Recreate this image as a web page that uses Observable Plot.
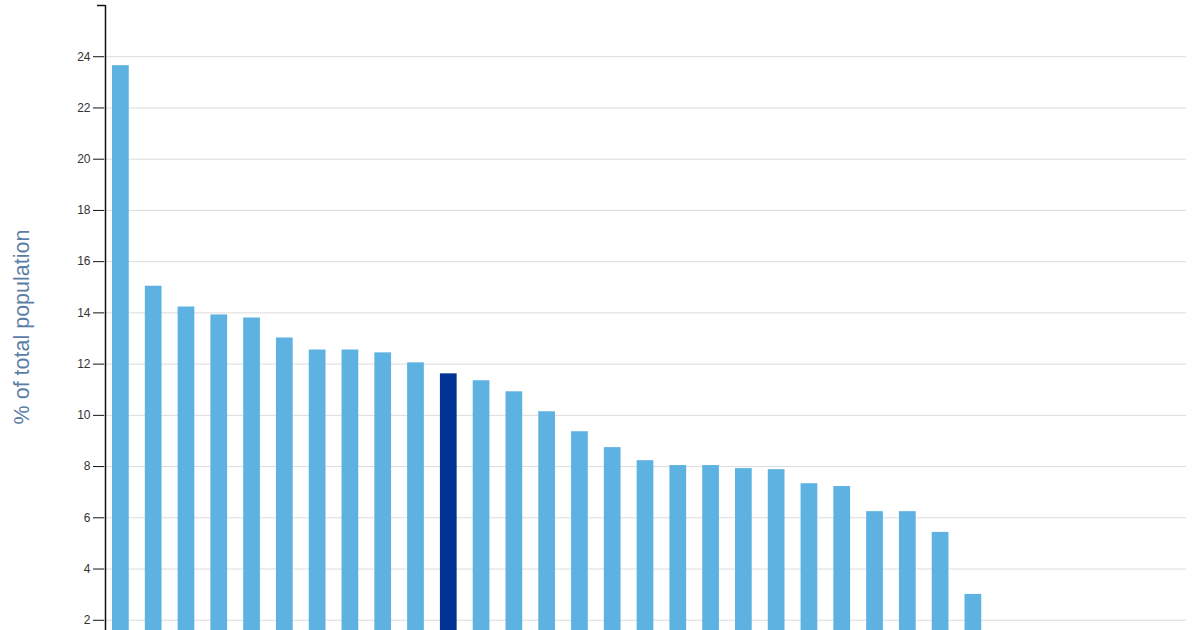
<!DOCTYPE html>
<html>
<head>
<meta charset="utf-8">
<script src="https://cdn.jsdelivr.net/npm/d3@7"></script>
<script src="https://cdn.jsdelivr.net/npm/@observablehq/plot@0.6"></script>
<style>
  html, body { margin: 0; padding: 0; background: #fff; overflow: hidden; }
  #wrap { position: relative; width: 1200px; }
  #ylabel {
    position: absolute; left: 22px; top: 327px;
    transform: translate(-50%, -50%) rotate(-90deg);
    font-family: "Liberation Sans", Arial, sans-serif; font-size: 21.5px;
    color: #5b7ea6; white-space: nowrap;
  }
</style>
</head>
<body>
<div id="wrap"><div id="ylabel">% of total population</div></div>
<script>
// Categories (x labels are cropped out of the reference; placeholders)
const categories = Array.from({length: 33}, (_, i) => `C${i + 1}`);
// Values (% of total population); last 6 slots empty
const values = [23.65, 15.04, 14.23, 13.92, 13.8, 13.02, 12.55, 12.55, 12.44, 12.05,
  11.62, 11.35, 10.92, 10.14, 9.36, 8.74, 8.23, 8.04, 8.04, 7.92, 7.88, 7.33, 7.22,
  6.24, 6.24, 5.43, 3.01, null, null, null, null, null, null];
const highlightIndex = 10;
const yTicks = [0, 2, 4, 6, 8, 10, 12, 14, 16, 18, 20, 22, 24];
const yMax = 26;

const data = categories.map((c, i) => ({cat: c, value: values[i], hl: i === highlightIndex}));

const chart = Plot.plot({
  width: 1200,
  height: 720,
  marginTop: 5,
  marginBottom: 49,
  marginLeft: 104,
  marginRight: 14,
  style: {fontFamily: "'Liberation Sans', Arial, sans-serif", fontSize: "12px", color: "#333"},
  x: {domain: categories, paddingInner: 0.49, paddingOuter: 0.245, round: false, axis: null},
  y: {domain: [0, yMax], axis: null},
  marks: [
    Plot.gridY(yTicks.filter(t => t > 0), {stroke: "#dcdcdc", strokeOpacity: 1}),
    Plot.barY(data.filter(d => d.value != null), {
      x: "cat", y: "value",
      fill: d => d.hl ? "#003393" : "#5db2e1"
    }),
    Plot.axisY({ticks: yTicks, tickSize: 11, tickPadding: 3, label: null, stroke: "#111", fill: "#333", fontSize: 12}),
    Plot.ruleX([categories[0]], {x: d => d, dx: -15.4, y1: 0, y2: yMax, stroke: "#111", strokeWidth: 1.5}),
    Plot.tickY([yMax], {x: () => categories[0], y: d => d, insetLeft: 8.7, dx: -23.7, stroke: "#111", strokeWidth: 1.5})
  ]
});
document.getElementById("wrap").appendChild(chart);
</script>
</body>
</html>
